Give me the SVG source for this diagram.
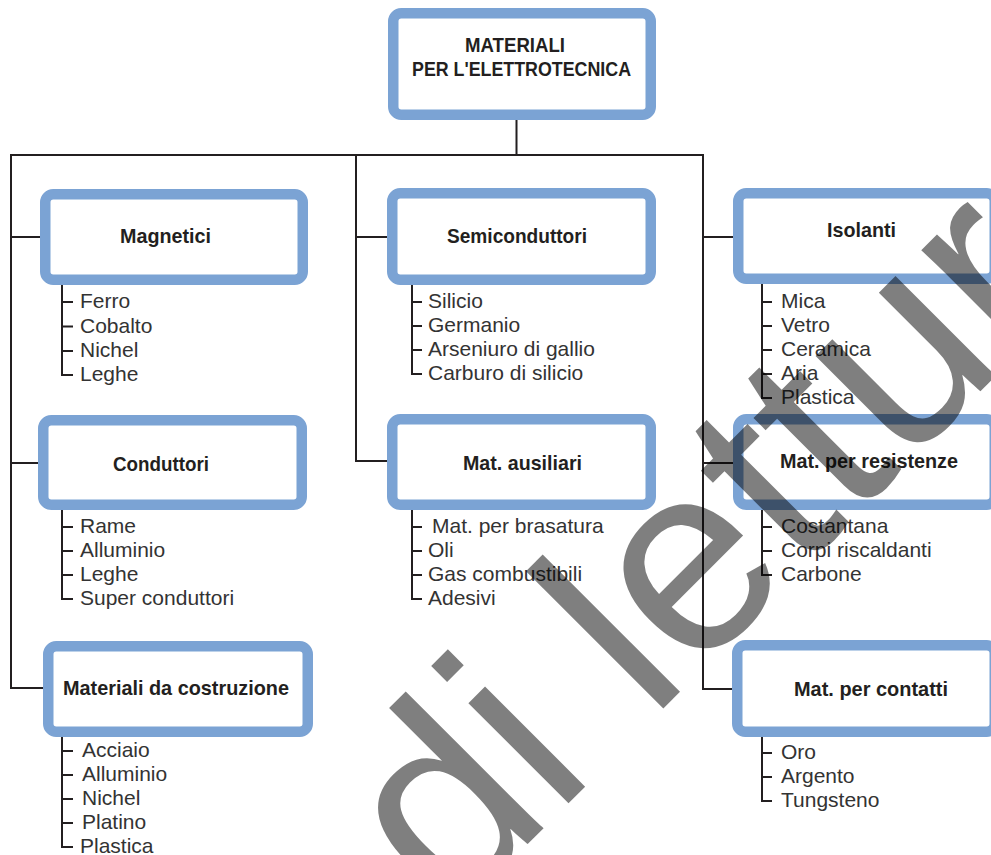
<svg xmlns="http://www.w3.org/2000/svg" width="991" height="855" viewBox="0 0 991 855">
<style>
.box{fill:#fff;stroke:#7BA3D4;stroke-width:10.5}
.ln{fill:none;stroke:#231F20;stroke-width:2}
.lbl{font-family:"Liberation Sans",Arial,sans-serif;font-weight:bold;font-size:21px;fill:#231F20;text-anchor:middle}
.it{font-family:"Liberation Sans",Arial,sans-serif;font-size:21px;fill:#333}
.wm{font-family:"Liberation Sans",Arial,sans-serif;font-size:268px;fill:#000;fill-opacity:0.5}
</style>
<rect width="991" height="855" fill="#fff"/>
<g id="connectors">
<path class="ln" d="M516.5,120 V155 M43,688 H11 V155 H703 V689 H732 M11,237 H40 M11,463 H38 M356,155 V461 H387 M356,237 H387 M703,237 H733 M703,463 H733"/>
</g>
<g id="root">
<rect class="box" x="393.25" y="13.25" width="257.5" height="101.5" rx="8"/>
<text class="lbl" font-size="22" x="515" y="52" textLength="100" lengthAdjust="spacingAndGlyphs">MATERIALI</text>
<text class="lbl" font-size="22" x="521.5" y="76" textLength="219" lengthAdjust="spacingAndGlyphs">PER L'ELETTROTECNICA</text>
</g>
<g id="magnetici">
<rect class="box" x="45.25" y="194.25" width="257.5" height="85.5" rx="8"/>
<text class="lbl" x="165.5" y="243" textLength="91" lengthAdjust="spacingAndGlyphs">Magnetici</text>
<path class="ln" d="M62,285 V375 H73 M62,302 H73 M62,326.5 H73 M62,351 H73"/>
<text class="it" x="80" y="308">Ferro</text>
<text class="it" x="80" y="332.5">Cobalto</text>
<text class="it" x="80" y="357">Nichel</text>
<text class="it" x="80" y="381">Leghe</text>
</g>
<g id="semiconduttori">
<rect class="box" x="392.25" y="193.25" width="258.5" height="86.5" rx="8"/>
<text class="lbl" x="517" y="243" textLength="140" lengthAdjust="spacingAndGlyphs">Semiconduttori</text>
<path class="ln" d="M412,285 V374 H422 M412,302 H422 M412,326 H422 M412,350 H422"/>
<text class="it" x="428" y="308">Silicio</text>
<text class="it" x="428" y="332">Germanio</text>
<text class="it" x="428" y="356">Arseniuro di gallio</text>
<text class="it" x="428" y="380">Carburo di silicio</text>
</g>
<g id="isolanti">
<rect class="box" x="738.25" y="193.25" width="256.5" height="85.5" rx="8"/>
<text class="lbl" x="861.5" y="237" textLength="69" lengthAdjust="spacingAndGlyphs">Isolanti</text>
<path class="ln" d="M762,284 V398 H772 M762,302 H772 M762,326 H772 M762,350 H772 M762,374 H772"/>
<text class="it" x="781" y="308">Mica</text>
<text class="it" x="781" y="332">Vetro</text>
<text class="it" x="781" y="356">Ceramica</text>
<text class="it" x="781" y="380">Aria</text>
<text class="it" x="781" y="404">Plastica</text>
</g>
<g id="conduttori">
<rect class="box" x="43.25" y="420.25" width="258.5" height="84.5" rx="8"/>
<text class="lbl" x="161" y="471" textLength="96" lengthAdjust="spacingAndGlyphs">Conduttori</text>
<path class="ln" d="M62,510 V599 H73 M62,527 H73 M62,551 H73 M62,575 H73"/>
<text class="it" x="80" y="533">Rame</text>
<text class="it" x="80" y="557">Alluminio</text>
<text class="it" x="80" y="581">Leghe</text>
<text class="it" x="80" y="605">Super conduttori</text>
</g>
<g id="ausiliari">
<rect class="box" x="392.25" y="419.25" width="258.5" height="85.5" rx="8"/>
<text class="lbl" x="522.5" y="470" textLength="119" lengthAdjust="spacingAndGlyphs">Mat. ausiliari</text>
<path class="ln" d="M412,510 V599 H422 M412,527 H422 M412,551 H422 M412,575 H422"/>
<text class="it" x="432" y="533">Mat. per brasatura</text>
<text class="it" x="428" y="557">Oli</text>
<text class="it" x="428" y="581">Gas combustibili</text>
<text class="it" x="428" y="605">Adesivi</text>
</g>
<g id="resistenze">
<rect class="box" x="738.25" y="419.25" width="256.5" height="85.5" rx="8"/>
<text class="lbl" x="869" y="468" textLength="178" lengthAdjust="spacingAndGlyphs">Mat. per resistenze</text>
<path class="ln" d="M762,510 V575 H772 M762,527 H772 M762,551 H772"/>
<text class="it" x="781" y="533">Costantana</text>
<text class="it" x="781" y="557">Corpi riscaldanti</text>
<text class="it" x="781" y="581">Carbone</text>
</g>
<g id="costruzione">
<rect class="box" x="48.25" y="646.25" width="259.5" height="85.5" rx="8"/>
<text class="lbl" x="176" y="695" textLength="226" lengthAdjust="spacingAndGlyphs">Materiali da costruzione</text>
<path class="ln" d="M62,737 V847 H73 M62,751 H73 M62,775 H73 M62,799 H73 M62,823 H73"/>
<text class="it" x="82" y="757">Acciaio</text>
<text class="it" x="82" y="781">Alluminio</text>
<text class="it" x="82" y="805">Nichel</text>
<text class="it" x="82" y="829">Platino</text>
<text class="it" x="80" y="853">Plastica</text>
</g>
<g id="contatti">
<rect class="box" x="737.25" y="645.25" width="257.5" height="86.5" rx="8"/>
<text class="lbl" x="871" y="696" textLength="154" lengthAdjust="spacingAndGlyphs">Mat. per contatti</text>
<path class="ln" d="M762,737 V801 H772 M762,753 H772 M762,777 H772"/>
<text class="it" x="781" y="759">Oro</text>
<text class="it" x="781" y="783">Argento</text>
<text class="it" x="781" y="807">Tungsteno</text>
</g>
<text class="wm" x="-333" y="970" transform="rotate(-45)">di lettura</text>
</svg>
